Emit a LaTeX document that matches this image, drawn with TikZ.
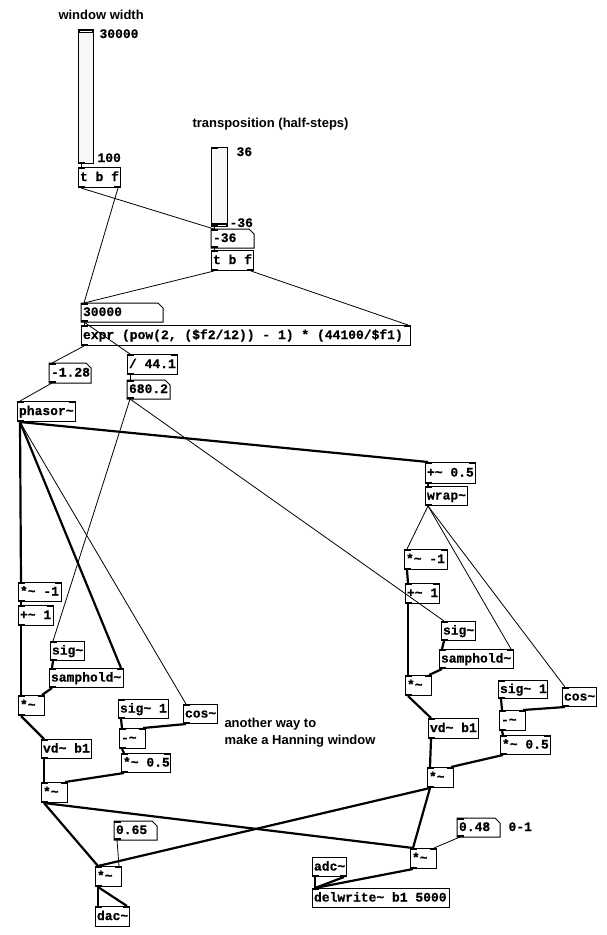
\documentclass[tikz,border=0pt]{standalone}
\usepackage{fontspec}
\newfontfamily\pdmono{Liberation Mono}[BoldFeatures={FakeBold=0.6}]
\newfontfamily\pdsans{Liberation Sans}
\newcommand\pdfont{\pdmono\bfseries\fontsize{13bp}{15bp}\selectfont}
\newcommand\pdlblfont{\pdsans\bfseries\fontsize{13bp}{15bp}\selectfont}
\newcommand\pdt{\textasciitilde}
\newcommand\pdobj[6]{\pgfmathsetlengthmacro\pdtw{#4*1bp-3bp}%
  \node[obj,minimum width=#4bp,minimum height=#5bp] (#1) at (#2,#3) {\makebox[\pdtw][l]{#6}};}
\newcommand\pdnum[6]{\pgfmathsetlengthmacro\pdtw{#4*1bp-3bp}%
  \node[numb,minimum width=#4bp,minimum height=#5bp] (#1) at (#2,#3) {\makebox[\pdtw][l]{#6}};
  \draw (#1.north west) -- ([xshift=-5bp]#1.north east) -- ([yshift=-5bp]#1.north east) -- (#1.south east) -- (#1.south west) -- cycle;}
\begin{document}
\begin{tikzpicture}[x=1bp,y=-1bp,line width=1bp,
  obj/.style={draw,anchor=north west,inner xsep=1.5bp,inner ysep=0pt,text height=9.5bp,text depth=2.5bp,font=\pdfont},
  numb/.style={anchor=north west,inner xsep=1.5bp,inner ysep=0pt,text height=9.5bp,text depth=2.5bp,font=\pdfont},
  slid/.style={draw,fill=black!3,anchor=north west,inner sep=0pt},
  ctl/.style={line width=0.8bp},
  sgl/.style={line width=2.2bp},
  lbl/.style={font=\pdlblfont,inner sep=0pt,anchor=base west},
  mlbl/.style={font=\pdfont,inner sep=0pt,anchor=base west}]
\useasboundingbox[fill=white] (0,0) rectangle (607,935);

% labels
\node[lbl] (lblww) at (58,19) {window width};
\node[lbl] (lbltr) at (192,127) {transposition (half-steps)};
\node[mlbl] (s1max) at (99,38) {30000};
\node[mlbl] (s1min) at (97,162) {100};
\node[mlbl] (s2max) at (236,156) {36};
\node[mlbl] (s2min) at (229,227) {-36};
\node[mlbl] (lbl01) at (508,831) {0-1};
\node[lbl] (hann1) at (224,727) {another way to};
\node[lbl] (hann2) at (224,744) {make a Hanning window};

% sliders
\node[slid,minimum width=15bp,minimum height=134bp] (slider1) at (78,29) {};
\fill (slider1.north west) rectangle ([yshift=-4bp]slider1.north east);
\draw[white,line width=0.6bp] ([xshift=2bp,yshift=-2bp]slider1.north west) -- ([xshift=-2bp,yshift=-2bp]slider1.north east);
\node[slid,minimum width=16bp,minimum height=79bp] (slider2) at (211,147) {};
\fill ([yshift=4bp]slider2.south west) rectangle (slider2.south east);
\draw[white,line width=0.6bp] ([xshift=2bp,yshift=2bp]slider2.south west) -- ([xshift=-2bp,yshift=2bp]slider2.south east);

% top objects
\pdobj{tbf1}{78}{167}{42}{20}{t b f}
\pdnum{nb36}{211}{229}{42}{18}{-36}
\pdobj{tbf2}{211}{250}{42}{20}{t b f}
\pdnum{nb30000}{81}{303}{81}{18}{30000}
\pdobj{expr}{81}{325}{329}{20}{expr (pow(2, (\$f2/12)) - 1) * (44100/\$f1)}
\pdnum{nb128}{49}{363}{41}{19}{-1.28}
\pdobj{div}{127}{354}{50}{20}{/ 44.1}
\pdnum{nb680}{127}{380}{42}{18}{680.2}
\pdobj{phasor}{17}{401}{58}{20}{phasor\pdt}

% left column
\pdobj{Lneg}{18}{582}{43}{19}{*\pdt{} -1}
\pdobj{Lplus}{18}{605}{35}{20}{+\pdt{} 1}
\pdobj{Lsig}{50}{641}{34}{19}{sig\pdt}
\pdobj{Lsamp}{49}{668}{74}{19}{samphold\pdt}
\pdobj{Lmul}{18}{695}{26}{20}{*\pdt}
\pdobj{Lvd}{41}{739}{50}{19}{vd\pdt{} b1}
\pdobj{Lsig1}{118}{699}{50}{19}{sig\pdt{} 1}
\pdobj{Lcos}{183}{704}{34}{19}{cos\pdt}
\pdobj{Lminus}{119}{728}{26}{20}{-\pdt}
\pdobj{Lhalf}{121}{753}{49}{19}{*\pdt{} 0.5}
\pdobj{Lmul2}{41}{782}{26}{20}{*\pdt}

% right column
\pdobj{Rplus}{425}{462}{50}{21}{+\pdt{} 0.5}
\pdobj{Rwrap}{425}{486}{42}{19}{wrap\pdt}
\pdobj{Rneg}{404}{549}{43}{20}{*\pdt{} -1}
\pdobj{Rplus1}{405}{583}{34}{20}{+\pdt{} 1}
\pdobj{Rsig}{441}{621}{34}{19}{sig\pdt}
\pdobj{Rsamp}{439}{649}{74}{19}{samphold\pdt}
\pdobj{Rmul}{405}{675}{26}{20}{*\pdt}
\pdobj{Rvd}{428}{718}{50}{20}{vd\pdt{} b1}
\pdobj{Rsig1}{498}{680}{49}{18}{sig\pdt{} 1}
\pdobj{Rcos}{562}{687}{34}{19}{cos\pdt}
\pdobj{Rminus}{499}{710}{26}{20}{-\pdt}
\pdobj{Rhalf}{500}{735}{50}{19}{*\pdt{} 0.5}
\pdobj{Rmul2}{427}{767}{26}{20}{*\pdt}

% bottom
\pdnum{nb065}{114}{821}{42}{18}{0.65}
\pdobj{Dmul}{95}{866}{26}{20}{*\pdt}
\pdobj{dac}{95}{906}{34}{20}{dac\pdt}
\pdobj{Wmul}{410}{848}{26}{20}{*\pdt}
\pdnum{nb048}{457}{818}{42}{18}{0.48}
\pdobj{adc}{312}{857}{34}{19}{adc\pdt}
\pdobj{delw}{312}{888}{137}{19}{delwrite\pdt{} b1 5000}

% inlet / outlet marks
\foreach \n in {slider1,slider2,tbf1,tbf2,nb36,nb30000,expr,nb128,div,nb680,phasor,Lneg,Lplus,Lsig,Lsamp,Lmul,Lvd,Lsig1,Lcos,Lminus,Lhalf,Lmul2,Rplus,Rwrap,Rneg,Rplus1,Rsig,Rsamp,Rmul,Rvd,Rsig1,Rcos,Rminus,Rhalf,Rmul2,nb065,Dmul,dac,Wmul,nb048,delw}
  {\fill (\n.north west) rectangle ([xshift=7bp,yshift=-2bp]\n.north west);}
\foreach \n in {expr,div,phasor,Lneg,Lplus,Lsamp,Lmul,Lminus,Lhalf,Lmul2,Rplus,Rneg,Rplus1,Rsamp,Rmul,Rminus,Rhalf,Rmul2,Dmul,dac,Wmul}
  {\fill (\n.north east) rectangle ([xshift=-7bp,yshift=-2bp]\n.north east);}
\foreach \n in {slider1,slider2,tbf1,tbf2,nb36,nb30000,expr,nb128,div,nb680,phasor,Lneg,Lplus,Lsig,Lsamp,Lmul,Lvd,Lsig1,Lcos,Lminus,Lhalf,Lmul2,Rplus,Rwrap,Rneg,Rplus1,Rsig,Rsamp,Rmul,Rvd,Rsig1,Rcos,Rminus,Rhalf,Rmul2,nb065,Dmul,Wmul,nb048,adc}
  {\fill (\n.south west) rectangle ([xshift=7bp,yshift=2bp]\n.south west);}
\foreach \n in {tbf1,tbf2,adc}
  {\fill (\n.south east) rectangle ([xshift=-7bp,yshift=2bp]\n.south east);}

% control connections
\draw[ctl] ([xshift=3bp]slider1.south west) -- ([xshift=3bp]tbf1.north west);
\draw[ctl] ([xshift=3bp]slider2.south west) -- ([xshift=3bp]nb36.north west);
\draw[ctl] ([xshift=3bp]nb36.south west) -- ([xshift=3bp]tbf2.north west);
\draw[ctl] ([xshift=3bp]tbf1.south west) -- ([xshift=3bp]nb36.north west);
\draw[ctl] ([xshift=-3bp]tbf1.south east) -- ([xshift=3bp]nb30000.north west);
\draw[ctl] ([xshift=3bp]tbf2.south west) -- ([xshift=3bp]nb30000.north west);
\draw[ctl] ([xshift=-3bp]tbf2.south east) -- ([xshift=-3bp]expr.north east);
\draw[ctl] ([xshift=3bp]nb30000.south west) -- ([xshift=3bp]expr.north west);
\draw[ctl] ([xshift=3bp]nb30000.south west) -- ([xshift=3bp]div.north west);
\draw[ctl] ([xshift=3bp]expr.south west) -- ([xshift=3bp]nb128.north west);
\draw[ctl] ([xshift=3bp]div.south west) -- ([xshift=3bp]nb680.north west);
\draw[ctl] ([xshift=3bp]nb128.south west) -- ([xshift=3bp]phasor.north west);
\draw[ctl] ([xshift=3bp]nb680.south west) -- ([xshift=3bp]Lsig.north west);
\draw[ctl] ([xshift=3bp]nb680.south west) -- ([xshift=3bp]Rsig.north west);
\draw[ctl] ([xshift=3bp]phasor.south west) -- ([xshift=3bp]Lcos.north west);
\draw[ctl] ([xshift=3bp]Rwrap.south west) -- ([xshift=3bp]Rneg.north west);
\draw[ctl] ([xshift=3bp]Rwrap.south west) -- ([xshift=-3bp]Rsamp.north east);
\draw[ctl] ([xshift=3bp]Rwrap.south west) -- ([xshift=3bp]Rcos.north west);
\draw[ctl] ([xshift=3bp]nb065.south west) -- ([xshift=-3bp]Dmul.north east);
\draw[ctl] ([xshift=3bp]nb048.south west) -- ([xshift=-3bp]Wmul.north east);

% signal connections
\draw[sgl] ([xshift=3bp]phasor.south west) -- ([xshift=3bp]Lneg.north west);
\draw[sgl] ([xshift=3bp]phasor.south west) -- ([xshift=3bp]Rplus.north west);
\draw[sgl] ([xshift=3bp]phasor.south west) -- ([xshift=-3bp]Lsamp.north east);
\draw[sgl] ([xshift=3bp]Lneg.south west) -- ([xshift=3bp]Lplus.north west);
\draw[sgl] ([xshift=3bp]Lplus.south west) -- ([xshift=3bp]Lmul.north west);
\draw[sgl] ([xshift=3bp]Lsig.south west) -- ([xshift=3bp]Lsamp.north west);
\draw[sgl] ([xshift=3bp]Lsamp.south west) -- ([xshift=-3bp]Lmul.north east);
\draw[sgl] ([xshift=3bp]Lmul.south west) -- ([xshift=3bp]Lvd.north west);
\draw[sgl] ([xshift=3bp]Lvd.south west) -- ([xshift=3bp]Lmul2.north west);
\draw[sgl] ([xshift=3bp]Lsig1.south west) -- ([xshift=3bp]Lminus.north west);
\draw[sgl] ([xshift=3bp]Lcos.south west) -- ([xshift=-3bp]Lminus.north east);
\draw[sgl] ([xshift=3bp]Lminus.south west) -- ([xshift=3bp]Lhalf.north west);
\draw[sgl] ([xshift=3bp]Lhalf.south west) -- ([xshift=-3bp]Lmul2.north east);
\draw[sgl] ([xshift=3bp]Rplus.south west) -- ([xshift=3bp]Rwrap.north west);
\draw[sgl] ([xshift=3bp]Rneg.south west) -- ([xshift=3bp]Rplus1.north west);
\draw[sgl] ([xshift=3bp]Rplus1.south west) -- ([xshift=3bp]Rmul.north west);
\draw[sgl] ([xshift=3bp]Rsig.south west) -- ([xshift=3bp]Rsamp.north west);
\draw[sgl] ([xshift=3bp]Rsamp.south west) -- ([xshift=-3bp]Rmul.north east);
\draw[sgl] ([xshift=3bp]Rmul.south west) -- ([xshift=3bp]Rvd.north west);
\draw[sgl] ([xshift=3bp]Rvd.south west) -- ([xshift=3bp]Rmul2.north west);
\draw[sgl] ([xshift=3bp]Rsig1.south west) -- ([xshift=3bp]Rminus.north west);
\draw[sgl] ([xshift=3bp]Rcos.south west) -- ([xshift=-3bp]Rminus.north east);
\draw[sgl] ([xshift=3bp]Rminus.south west) -- ([xshift=3bp]Rhalf.north west);
\draw[sgl] ([xshift=3bp]Rhalf.south west) -- ([xshift=-3bp]Rmul2.north east);
\draw[sgl] ([xshift=3bp]Lmul2.south west) -- ([xshift=3bp]Dmul.north west);
\draw[sgl] ([xshift=3bp]Rmul2.south west) -- ([xshift=3bp]Dmul.north west);
\draw[sgl] ([xshift=3bp]Lmul2.south west) -- ([xshift=3bp]Wmul.north west);
\draw[sgl] ([xshift=3bp]Rmul2.south west) -- ([xshift=3bp]Wmul.north west);
\draw[sgl] ([xshift=3bp]Wmul.south west) -- ([xshift=3bp]delw.north west);
\draw[sgl] ([xshift=3bp]adc.south west) -- ([xshift=3bp]delw.north west);
\draw[sgl] ([xshift=-3bp]adc.south east) -- ([xshift=3bp]delw.north west);
\draw[sgl] ([xshift=3bp]Dmul.south west) -- ([xshift=3bp]dac.north west);
\draw[sgl] ([xshift=3bp]Dmul.south west) -- ([xshift=-3bp]dac.north east);
\end{tikzpicture}
\end{document}
